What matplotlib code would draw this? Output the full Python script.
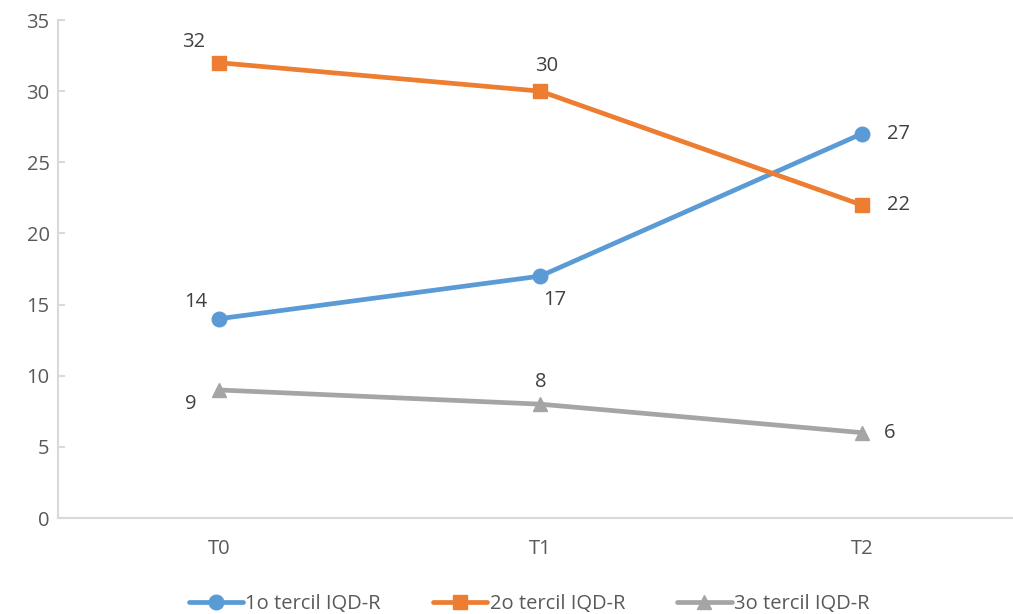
import matplotlib
matplotlib.use("Agg")
import matplotlib.pyplot as plt

plt.rcParams['font.family'] = ['Open Sans', 'DejaVu Sans']

categories = ['T0', 'T1', 'T2']
tercil1 = [14, 17, 27]
tercil2 = [32, 30, 22]
tercil3 = [9, 8, 6]
series_names = ['1o tercil IQD-R', '2o tercil IQD-R', '3o tercil IQD-R']

colors = ['#5B9BD5', '#ED7D31', '#A5A5A5']
markers = ['o', 's', '^']
# label offsets (points) per series per category
offsets = [
    [(-8, 12, 'right', 'center'), (2, -10, 'left', 'top'), (18, 0, 'left', 'center')],
    [(-10, 15, 'right', 'center'), (-4, 18, 'left', 'center'), (18, 0, 'left', 'center')],
    [(-16, -10, 'right', 'center'), (0, 16, 'center', 'center'), (16, 0, 'left', 'center')],
]

fig = plt.figure(figsize=(10.13, 6.14), dpi=100)
ax = fig.add_axes([58 / 1013, 96 / 614, 964.5 / 1013, 498 / 614])

x = list(range(len(categories)))
for i, vals in enumerate([tercil1, tercil2, tercil3]):
    ax.plot(x, vals, color=colors[i], marker=markers[i], lw=3.4, ms=10.5,
            label=series_names[i], solid_capstyle='round')
    for j, v in enumerate(vals):
        dx, dy, ha, va = offsets[i][j]
        ax.annotate(str(v), (j, v), xytext=(dx, dy), textcoords='offset points',
                    ha=ha, va=va, fontsize=14.5, color='#404040')

ax.set_xlim(-0.5, 2.5)
ax.set_ylim(0, 35)
ax.set_yticks(range(0, 36, 5))
ax.set_xticks(x)
ax.set_xticklabels(categories)
for s in ['top', 'right']:
    ax.spines[s].set_visible(False)
for s in ['left', 'bottom']:
    ax.spines[s].set_color('#D9D9D9')
    ax.spines[s].set_linewidth(1.5)
ax.tick_params(axis='y', direction='in', length=5, color='#D9D9D9', width=1.5,
               labelsize=14.5, labelcolor='#595959', pad=6)
ax.tick_params(axis='x', length=0, labelsize=14.5, labelcolor='#595959', pad=15)

fig.legend(loc='lower center', bbox_to_anchor=(529 / 1013, -0.03), ncol=3,
           frameon=False, fontsize=14.5, labelcolor='#595959', handlelength=2.7,
           handletextpad=0.1, columnspacing=2.6, markerscale=1.0)

fig.savefig('out.png', dpi=100)
